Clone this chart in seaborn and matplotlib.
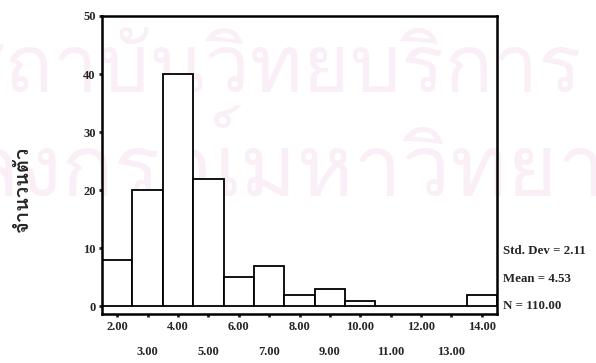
import numpy as np
import pandas as pd
import seaborn as sns
import matplotlib
matplotlib.use("Agg")
import matplotlib.pyplot as plt
from matplotlib import font_manager
from matplotlib.ticker import FixedLocator, FixedFormatter

# Histogram data: bin centres and counts per bin
bin_centers = [2, 3, 4, 5, 6, 7, 8, 9, 10, 11, 12, 13, 14]
counts = [8, 20, 40, 22, 5, 7, 2, 3, 1, 0, 0, 0, 2]
major_labels = ["2.00", "4.00", "6.00", "8.00", "10.00", "12.00", "14.00"]
minor_labels = ["3.00", "5.00", "7.00", "9.00", "11.00", "13.00"]
y_ticks = [0, 10, 20, 30, 40, 50]
stats_lines = ["Std. Dev = 2.11", "Mean = 4.53", "N = 110.00"]
y_label = "จำนวนตัว"
mark_top = "สถาบันวิทยบริการ"
mark_bottom = "จุฬาลงกรณ์มหาวิทยาลัย"


def find_thai_font():
    from fontTools.ttLib import TTFont
    seen = set()
    for f in font_manager.fontManager.ttflist:
        if f.fname in seen:
            continue
        seen.add(f.fname)
        try:
            tt = TTFont(f.fname, fontNumber=0, lazy=True)
            cmap = tt.getBestCmap()
            if cmap and 0x0E08 in cmap and 0x0E33 in cmap:
                return f.name
        except Exception:
            continue
    return None


sns.set_style("white")
thai_font = find_thai_font()
plt.rcParams["font.family"] = ["Liberation Serif", "DejaVu Sans"]

df = pd.DataFrame({"value": bin_centers, "count": counts})

fig = plt.figure(figsize=(5.96, 3.63), dpi=100)
W, H = 596, 363
ax = fig.add_axes([102 / W, 1 - 314 / H, (497 - 102) / W, (314 - 16) / H])
ax.set_zorder(1)
ax.patch.set_alpha(0)

# faint background watermark, behind the chart
if thai_font:
    fig.text(-45 / W, 1 - 92 / H, mark_top, fontsize=58, color="#faeff7",
             family=thai_font, ha="left", va="baseline", zorder=-1)
    fig.text(-190 / W, 1 - 196 / H, mark_bottom, fontsize=62, color="#faeff7",
             family=thai_font, ha="left", va="baseline", zorder=-1)

sns.histplot(data=df, x="value", weights="count", binwidth=1,
             binrange=(1.5, 14.5), ax=ax, color="white", alpha=1,
             edgecolor="black", linewidth=1.3)

ax.set_xlim(1.5, 14.5)
ax.set_ylim(-1.3, 50)

for s in ax.spines.values():
    s.set_visible(True)
    s.set_color("black")
    s.set_linewidth(1.8)

tick_size = 9
ax.xaxis.set_major_locator(FixedLocator([2, 4, 6, 8, 10, 12, 14]))
ax.xaxis.set_major_formatter(FixedFormatter(major_labels))
ax.xaxis.set_minor_locator(FixedLocator([3, 5, 7, 9, 11, 13]))
ax.xaxis.set_minor_formatter(FixedFormatter(minor_labels))
ax.tick_params(axis="x", which="major", direction="out", length=2, width=2,
               pad=3.2, labelsize=tick_size, bottom=True)
ax.tick_params(axis="x", which="minor", direction="out", length=2, width=2,
               pad=21, labelsize=tick_size, bottom=True)
ax.set_yticks(y_ticks)
ax.set_yticklabels([str(v) for v in y_ticks])
ax.tick_params(axis="y", direction="out", length=2, width=2, pad=2.5,
               labelsize=tick_size, left=True)
for lbl in ax.get_xticklabels(which="both") + ax.get_yticklabels():
    lbl.set_fontweight("bold")

ax.set_xlabel("")
ax.set_ylabel("")

fig.text(23 / W, 1 - 190 / H, y_label, rotation=90, fontsize=14.5,
         fontweight="bold", ha="center", va="center",
         family=[thai_font, "DejaVu Sans"] if thai_font else ["DejaVu Sans"])

for i, line in enumerate(stats_lines):
    fig.text(503 / W, 1 - (251 + 27.5 * i) / H, line, fontsize=9.3,
             fontweight="bold", ha="left", va="center")

fig.savefig("out.png", dpi=100)
